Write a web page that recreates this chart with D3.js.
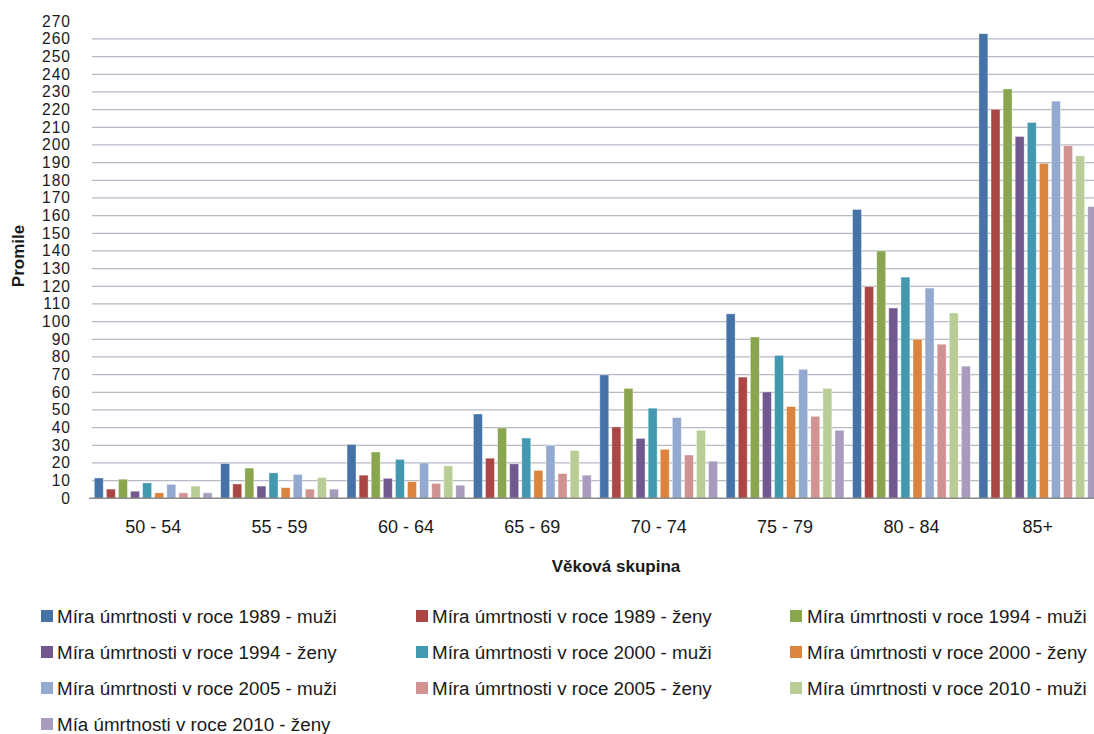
<!DOCTYPE html>
<html>
<head>
<meta charset="utf-8">
<script src="https://cdn.jsdelivr.net/npm/d3@7"></script>
<style>
  html, body { margin: 0; padding: 0; background: #fff; }
  svg { display: block; font-family: "Liberation Sans", Arial, sans-serif; }
</style>
</head>
<body>
<svg id="chart" width="1094" height="734"></svg>
<script>
// ---- DATA ----
const categories = ["50 - 54", "55 - 59", "60 - 64", "65 - 69", "70 - 74", "75 - 79", "80 - 84", "85+"];
const seriesNames = [
  "Míra úmrtnosti v roce 1989 - muži",
  "Míra úmrtnosti v roce 1989 - ženy",
  "Míra úmrtnosti v roce 1994 - muži",
  "Míra úmrtnosti v roce 1994 - ženy",
  "Míra úmrtnosti v roce 2000 - muži",
  "Míra úmrtnosti v roce 2000 - ženy",
  "Míra úmrtnosti v roce 2005 - muži",
  "Míra úmrtnosti v roce 2005 - ženy",
  "Míra úmrtnosti v roce 2010 - muži",
  "Mía úmrtnosti v roce 2010 - ženy"
];
const rate1989Muzi = [11.5, 19.7, 30.5, 47.7, 69.8, 104.4, 163.5, 263.0];
const rate1989Zeny = [5.2, 8.1, 13.1, 22.7, 40.4, 68.6, 119.8, 220.2];
const rate1994Muzi = [10.8, 17.1, 26.2, 39.8, 62.2, 91.3, 140.0, 231.7];
const rate1994Zeny = [4.0, 6.9, 11.3, 19.5, 33.9, 60.2, 107.7, 204.8];
const rate2000Muzi = [8.7, 14.4, 22.0, 34.1, 51.0, 80.9, 125.2, 212.7];
const rate2000Zeny = [3.1, 6.0, 9.4, 15.8, 27.7, 51.9, 90.0, 189.6];
const rate2005Muzi = [7.9, 13.5, 20.0, 29.8, 45.7, 73.0, 119.0, 224.8];
const rate2005Zeny = [3.1, 5.2, 8.4, 14.0, 24.5, 46.4, 87.2, 199.6];
const rate2010Muzi = [6.9, 11.7, 18.4, 27.0, 38.5, 62.2, 104.9, 193.8];
const rate2010Zeny = [3.1, 5.2, 7.4, 13.1, 21.0, 38.5, 74.8, 165.1];
const yTicks = [0, 10, 20, 30, 40, 50, 60, 70, 80, 90, 100, 110, 120, 130, 140, 150, 160, 170, 180, 190, 200, 210, 220, 230, 240, 250, 260, 270];
const xTitle = "Věková skupina";
const yTitle = "Promile";

const seriesValues = [rate1989Muzi, rate1989Zeny, rate1994Muzi, rate1994Zeny, rate2000Muzi,
                      rate2000Zeny, rate2005Muzi, rate2005Zeny, rate2010Muzi, rate2010Zeny];
const colors = ["#4572A7", "#AA4643", "#89A54E", "#71588F", "#4198AF",
                "#DB843D", "#93A9CF", "#D19392", "#B9CD96", "#A99BBD"];

// ---- LAYOUT ----
const svg = d3.select("#chart");
const plot = { left: 90, right: 1101, top: 21.3, bottom: 498.3 };

const x0 = d3.scaleBand().domain(categories).range([plot.left, plot.right]).padding(0);
const groupPad = 4.3;
const x1 = d3.scaleBand().domain(seriesNames)
  .range([groupPad, x0.bandwidth() - groupPad])
  .paddingInner(0.26).paddingOuter(0);
const y = d3.scaleLinear().domain([0, 270]).range([plot.bottom, plot.top]);

// gridlines
const grid = svg.append("g");
grid.selectAll("line").data(yTicks.filter(d => d > 0 && d < 270)).join("line")
  .attr("x1", plot.left + 2).attr("x2", plot.right)
  .attr("y1", d => y(d)).attr("y2", d => y(d))
  .attr("stroke", "#b6bac5").attr("stroke-width", 1.2);

// y axis labels
const yAxis = d3.axisLeft(y).tickValues(yTicks).tickSize(0).tickPadding(0);
const yg = svg.append("g").attr("transform", `translate(${71},0)`).call(yAxis);
yg.select(".domain").remove();
yg.selectAll("text").attr("font-size", 15.6).attr("letter-spacing", "1px").attr("fill", "#1a1a1a")
  .attr("font-family", "'Liberation Sans', Arial, sans-serif").attr("x", 0);

// bars
const groups = svg.append("g").selectAll("g").data(categories).join("g")
  .attr("transform", d => `translate(${x0(d)},0)`);
groups.selectAll("rect")
  .data((c, ci) => seriesNames.map((s, si) => ({ s, si, v: seriesValues[si][ci] })))
  .join("rect")
  .attr("x", d => x1(d.s))
  .attr("width", x1.bandwidth())
  .attr("y", d => y(d.v))
  .attr("height", d => y(0) - y(d.v))
  .attr("fill", d => colors[d.si])
  .attr("stroke", "#ffffff").attr("stroke-opacity", 0.45).attr("stroke-width", 0.8);

// x axis baseline + labels
const xAxis = d3.axisBottom(x0).tickSize(0).tickPadding(0);
const xg = svg.append("g").attr("transform", `translate(0,${plot.bottom})`).call(xAxis);
xg.select(".domain").attr("stroke", "#8a8a8a").attr("stroke-width", 1.6)
  .attr("d", `M${plot.left - 1},0H${plot.right}`);
xg.selectAll("text").attr("font-size", 18).attr("fill", "#1a1a1a")
  .attr("font-family", "'Liberation Sans', Arial, sans-serif")
  .attr("y", 28).attr("dy", "0.35em");

// axis titles
svg.append("text").attr("x", 616).attr("y", 566).attr("dy", "0.35em")
  .attr("text-anchor", "middle").attr("font-size", 17).attr("font-weight", "bold")
  .attr("fill", "#1a1a1a").text(xTitle);
svg.append("text").attr("transform", "translate(18,256) rotate(-90)").attr("dy", "0.35em")
  .attr("text-anchor", "middle").attr("font-size", 17).attr("font-weight", "bold")
  .attr("fill", "#1a1a1a").text(yTitle);

// legend
const colSwatchX = [41, 416, 790];
const colTextX = [57, 432, 807];
const rowY = [616, 652, 688, 724];
const leg = svg.append("g").selectAll("g").data(seriesNames).join("g")
  .attr("transform", (d, i) => `translate(0,${rowY[Math.floor(i / 3)]})`);
leg.append("rect")
  .attr("x", (d, i) => colSwatchX[i % 3]).attr("y", -6)
  .attr("width", 12).attr("height", 12)
  .attr("fill", (d, i) => colors[i]);
leg.append("text")
  .attr("x", (d, i) => colTextX[i % 3]).attr("dy", "0.35em")
  .attr("font-size", 18.8).attr("fill", "#1a1a1a")
  .text(d => d);
</script>
</body>
</html>
